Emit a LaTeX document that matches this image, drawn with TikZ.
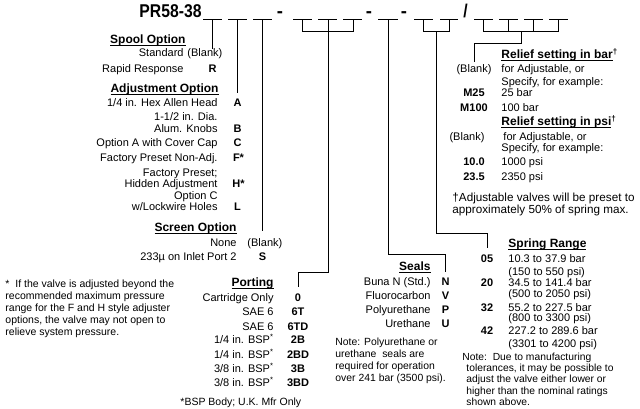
\documentclass[tikz,border=0pt]{standalone}
\usepackage{fontspec}
\setmainfont{Liberation Sans}
\usepackage{tikz}

% heading underline, close under the baseline
\newcommand{\hdrule}[1]{\setbox0=\hbox{#1}\rlap{\rule[-2.8pt]{\wd0}{1pt}}\box0}

\begin{document}
\begin{tikzpicture}[x=1pt, y=-1pt, line width=0.9pt,
    every node/.style={inner sep=0pt},
    lbl/.style={anchor=base east, font=\fontsize{11}{12}\selectfont},
    txt/.style={anchor=base west, font=\fontsize{11}{12}\selectfont},
    code/.style={anchor=base, font=\fontsize{11}{12}\selectfont\bfseries},
    head/.style={font=\fontsize{12}{13}\selectfont\bfseries},
    note/.style={anchor=north west, align=left},
    title/.style={anchor=base, font=\fontsize{18.5}{20}\selectfont\bfseries}]
  \useasboundingbox (0,0) rectangle (640,409);

  % part number with its blanks
  \node[title, anchor=base west] (pn) at (139,18) {\scalebox{0.85}[1]{PR58-38}};
  \node[title] (d1) at (280,18) {-};
  \node[title] (d2) at (369,18) {-};
  \node[title] (d3) at (404,18) {-};
  \node[title] (sl) at (465.5,18) {\scalebox{0.85}[1]{/}};
  \draw[line width=1.2pt] (203,19.3) -- (222,19.3) (228,19.3) -- (247,19.3)
        (253,19.3) -- (272,19.3) (293,19.3) -- (312,19.3) (318,19.3) -- (337,19.3)
        (343,19.3) -- (362,19.3) (378,19.3) -- (398,19.3) (414,19.3) -- (433,19.3)
        (440,19.3) -- (458,19.3) (474,19.3) -- (493,19.3) (499,19.3) -- (518,19.3)
        (524,19.3) -- (543,19.3) (549,19.3) -- (568,19.3);
  \coordinate (sp) at (212.5,20.5);
  \coordinate (adj) at (237.5,20.5);
  \coordinate (scr) at (262.5,20.5);
  \coordinate (po1) at (302.5,20.5);
  \coordinate (po2) at (328,20.5);
  \coordinate (po3) at (353,20.5);
  \coordinate (se) at (388,20.5);
  \coordinate (sr1) at (423.5,20.5);
  \coordinate (sr2) at (449,20.5);
  \coordinate (rs1) at (483.5,20.5);
  \coordinate (rs2) at (508.5,20.5);
  \coordinate (rs3) at (533.5,20.5);
  \coordinate (rs4) at (558.5,20.5);
  \coordinate (srm) at (436,31.7);
  \coordinate (rsm) at (521.5,31.7);
  \coordinate (kP) at (328,272);
  \coordinate (kS) at (388,254);
  \coordinate (kR) at (436,233);
  \coordinate (kB) at (521.5,43);

  % spool, adjustment, screen
  \node[head, anchor=base east] (hSpool) at (186,43.5) {\hdrule{Spool Option}};
  \node[lbl] (lStd) at (184,57) {Standard};
  \node[txt] (spBlank) at (187,57) {(Blank)};
  \node[lbl] (lRapid) at (184,73) {Rapid Response};
  \node[code] (cR) at (212.5,73) {R};
  \node[head, anchor=base east] (hAdj) at (219,92.5) {\hdrule{Adjustment Option}};
  \node[lbl] (lHex) at (218,107) {1/4 in. Hex Allen Head};
  \node[code] (cA) at (237.5,107) {A};
  \node[lbl] (lDia) at (218,121) {1-1/2 in. Dia.};
  \node[lbl] (lKnob) at (218,133) {Alum. Knobs};
  \node[code] (cB) at (237.5,133) {B};
  \node[lbl] (lCap) at (218,147) {Option A with Cover Cap};
  \node[code] (cC) at (237.5,147) {C};
  \node[lbl] (lFac) at (218,161) {Factory Preset Non-Adj.};
  \node[code] (cF) at (238.5,161) {F*};
  \node[lbl] (lPre) at (218,176) {Factory Preset;};
  \node[lbl] (lHid) at (218,187) {Hidden Adjustment};
  \node[code] (cH) at (238.5,187) {H*};
  \node[lbl] (lOpt) at (218,199) {Option C};
  \node[lbl] (lWire) at (218,211) {w/Lockwire Holes};
  \node[code] (cL) at (237.5,211) {L};
  \node[head, anchor=base east] (hScr) at (237,231.5) {\hdrule{Screen Option}};
  \node[lbl] (lNone) at (237,246) {None};
  \node[txt] (scBlank) at (247,246) {(Blank)};
  \node[lbl] (lInlet) at (237,260) {233µ on Inlet Port 2};
  \node[code] (cS) at (262.5,260) {S};
  \node[note, font=\fontsize{10.5}{12}\selectfont] (fnAdj) at (5,279.5)
       {*~~If the valve is adjusted beyond the\\recommended maximum pressure\\
        range for the F and H style adjuster\\options, the valve may not open to\\
        relieve system pressure.};

  % porting
  \node[head, anchor=base east] (hPort) at (274,286.5) {\hdrule{Porting}};
  \node[lbl] (lCart) at (274,301) {Cartridge Only};
  \node[code] (c0) at (298,301) {0};
  \node[lbl] (lSae) at (274,315) {SAE 6};
  \node[code] (c6T) at (298,315) {6T};
  \node[lbl] (lSaeD) at (274,330) {SAE 6};
  \node[code] (c6TD) at (298,330) {6TD};
  \node[lbl] (lB2) at (274,343) {1/4 in. BSP\textsuperscript{*}};
  \node[code] (c2B) at (298,343) {2B};
  \node[lbl] (lB2D) at (274,358) {1/4 in. BSP\textsuperscript{*}};
  \node[code] (c2BD) at (298,358) {2BD};
  \node[lbl] (lB3) at (274,372) {3/8 in. BSP\textsuperscript{*}};
  \node[code] (c3B) at (298,372) {3B};
  \node[lbl] (lB3D) at (274,386) {3/8 in. BSP\textsuperscript{*}};
  \node[code] (c3BD) at (298,386) {3BD};
  \node[txt, font=\fontsize{10.5}{12}\selectfont] (fnBsp) at (180,405)
       {*BSP Body; U.K. Mfr Only};

  % seals
  \node[head, anchor=base east] (hSeal) at (431,270.5) {\hdrule{Seals}};
  \node[lbl] (lBuna) at (431,285) {Buna N (Std.)};
  \node[code] (cN) at (445.5,285) {N};
  \node[lbl] (lFluo) at (431,299) {Fluorocarbon};
  \node[code] (cV) at (445.5,299) {V};
  \node[lbl] (lPoly) at (431,313) {Polyurethane};
  \node[code] (cP) at (445.5,313) {P};
  \node[lbl] (lUre) at (431,327) {Urethane};
  \node[code] (cU) at (445.5,327) {U};
  \node[note, font=\fontsize{10.4}{12}\selectfont] (fnSeal) at (335,337.5)
       {Note: Polyurethane or\\urethane~~seals are\\required for operation\\
        over 241 bar (3500 psi).};

  % relief setting
  \node[head, anchor=base west] (hBar) at (501,58.5)
       {\hdrule{Relief setting in bar}\textsuperscript{†}};
  \node[code, font=\fontsize{11}{12}\selectfont] (rBlank) at (474,73) {(Blank)};
  \node[txt] (tAdjB) at (501,73) {for Adjustable, or};
  \node[txt] (tSpecB) at (501,86) {Specify, for example:};
  \node[code] (cM25) at (474,97) {M25};
  \node[txt] (t25) at (501,97) {25 bar};
  \node[code] (cM100) at (474,112) {M100};
  \node[txt] (t100) at (501,112) {100 bar};
  \node[head, anchor=base west] (hPsi) at (501,125.5)
       {\hdrule{Relief setting in psi}\textsuperscript{†}};
  \node[code, font=\fontsize{11}{12}\selectfont] (pBlank) at (467,141) {(Blank)};
  \node[txt] (tAdjP) at (503,141) {for Adjustable, or};
  \node[txt] (tSpecP) at (501,152) {Specify, for example:};
  \node[code] (c100) at (474,166) {10.0};
  \node[txt] (t1000) at (501,166) {1000 psi};
  \node[code] (c235) at (474,180) {23.5};
  \node[txt] (t2350) at (501,180) {2350 psi};
  \node[note, font=\fontsize{11.7}{12}\selectfont] (fnPre) at (452,192.5)
       {†Adjustable valves will be preset to\\approximately 50\% of spring max.};

  % spring range
  \node[head, anchor=base west] (hSpr) at (508,247.5) {\hdrule{Spring Range}};
  \node[code] (c05) at (487,262) {05};
  \node[txt] (t05) at (508,262) {10.3 to 37.9 bar};
  \node[txt] (p05) at (508,275) {(150 to 550 psi)};
  \node[code] (c20) at (487,286) {20};
  \node[txt] (t20) at (508,286) {34.5 to 141.4 bar};
  \node[txt] (p20) at (508,297) {(500 to 2050 psi)};
  \node[code] (c32) at (487,311) {32};
  \node[txt] (t32) at (508,311) {55.2 to 227.5 bar};
  \node[txt] (p32) at (508,321) {(800 to 3300 psi)};
  \node[code] (c42) at (487,334) {42};
  \node[txt] (t42) at (508,334) {227.2 to 289.6 bar};
  \node[txt] (p42) at (508,347) {(3301 to 4200 psi)};
  \node[note, font=\fontsize{10.3}{11.2}\selectfont] (fnTol) at (462,352.5)
       {Note:~~Due to manufacturing\\\hspace*{4pt}tolerances, it may be possible to\\
        \hspace*{4pt}adjust the valve either lower or\\
        \hspace*{4pt}higher than the nominal ratings\\\hspace*{4pt}shown above.};

  % connectors
  \draw (sp) -- (sp |- spBlank.north);
  \draw[shorten >=6pt] (adj) -- (cA.north);
  \draw[shorten >=7pt] (scr) -- (scr |- scBlank.north);
  \draw (po1) -- ++(0,11.2) -| (po3);
  \draw[shorten >=6pt] (po2) -- (kP) -| (c0.north);
  \draw[shorten >=5pt] (se) -- (kS) -| (cN.north);
  \draw (sr1) -- ++(0,11.2) -| (sr2);
  \draw[shorten >=6pt] (srm) -- (kR) -| (c05.north);
  \draw (rs1) -- ++(0,11.2) -| (rs4);
  \draw (rs2) -- (rs2 |- rsm);
  \draw (rs3) -- (rs3 |- rsm);
  \draw[shorten >=3pt] (rsm) -- (kB) -| (rBlank.north);
\end{tikzpicture}
\end{document}
